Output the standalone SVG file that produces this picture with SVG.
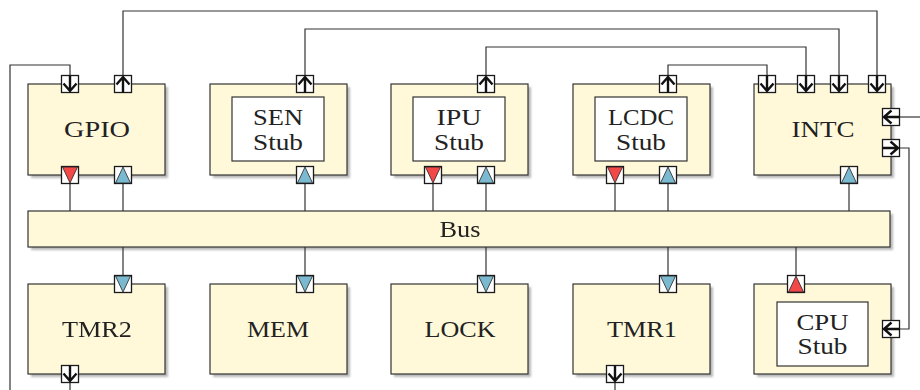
<svg xmlns="http://www.w3.org/2000/svg" width="920" height="390" viewBox="0 0 920 390">
<style>
.box{fill:#fff9d9;stroke:#333;stroke-width:1.2}
.sh{fill:#9a9a9a;opacity:.7}
.inner{fill:#fff;stroke:#333;stroke-width:1.2}
.con{fill:none;stroke:#333;stroke-width:1.2}
.psq{fill:#fff;stroke:#1a1a1a;stroke-width:1.3}
.arr{fill:none;stroke:#111;stroke-width:2.4}
.lbl{font-family:"Liberation Serif","Times New Roman",serif;font-size:22.5px;fill:#222;text-anchor:middle}
</style>
<defs>
<filter id="blur" x="-10%" y="-10%" width="120%" height="120%"><feGaussianBlur stdDeviation="0.8"/></filter>
<g id="pd"><rect class="psq" x="-8.5" y="-8.5" width="17" height="17"/><path class="arr" d="M0,-8.5V7.5M-6.5,-0.5L0,7L6.5,-0.5"/></g>
<g id="pu"><rect class="psq" x="-8.5" y="-8.5" width="17" height="17"/><path class="arr" d="M0,8.5V-7.5M-6.5,0.5L0,-7L6.5,0.5"/></g>
<g id="pl"><rect class="psq" x="-8.5" y="-8.5" width="17" height="17"/><path class="arr" d="M8.5,0H-7.5M0.5,-6.5L-7,0L0.5,6.5"/></g>
<g id="pr"><rect class="psq" x="-8.5" y="-8.5" width="17" height="17"/><path class="arr" d="M-8.5,0H7.5M-0.5,-6.5L7,0L-0.5,6.5"/></g>
<g id="rd"><rect class="psq" x="-8.5" y="-8.5" width="17" height="17"/><path d="M-7.5,-8L7.5,-8L0,8Z" fill="#f24848" stroke="#222" stroke-width="0.8"/></g>
<g id="ru"><rect class="psq" x="-8.5" y="-8.5" width="17" height="17"/><path d="M-7.5,8L7.5,8L0,-8Z" fill="#f24848" stroke="#222" stroke-width="0.8"/></g>
<g id="bd"><rect class="psq" x="-8.5" y="-8.5" width="17" height="17"/><path d="M-7.5,-8L7.5,-8L0,8Z" fill="#7ab9cf" stroke="#222" stroke-width="0.8"/></g>
<g id="bu"><rect class="psq" x="-8.5" y="-8.5" width="17" height="17"/><path d="M-7.5,8L7.5,8L0,-8Z" fill="#7ab9cf" stroke="#222" stroke-width="0.8"/></g>
</defs>
<rect width="920" height="390" fill="#fff"/>

<g id="shadows" filter="url(#blur)">
<rect class="sh" x="31" y="87" width="137" height="91"/>
<rect class="sh" x="213" y="87" width="137" height="91"/>
<rect class="sh" x="394" y="87" width="137" height="91"/>
<rect class="sh" x="576" y="87" width="137" height="91"/>
<rect class="sh" x="757" y="87" width="137" height="91"/>
<rect class="sh" x="31" y="214" width="862" height="36"/>
<rect class="sh" x="31" y="287" width="137" height="90"/>
<rect class="sh" x="213" y="287" width="137" height="90"/>
<rect class="sh" x="394" y="287" width="137" height="90"/>
<rect class="sh" x="576" y="287" width="137" height="90"/>
<rect class="sh" x="757" y="287" width="137" height="90"/>
</g>

<g id="connectors">
<path class="con" d="M10,390V65H70V75.5"/>
<path class="con" d="M123,75.5V11H877V75.5"/>
<path class="con" d="M305,75.5V29H839V75.5"/>
<path class="con" d="M486,75.5V47H806V75.5"/>
<path class="con" d="M668,75.5V65H767V75.5"/>
<path class="con" d="M920,117H900"/>
<path class="con" d="M900,148H909V329H900"/>
<path class="con" d="M70,183.5V211M123,183.5V211M305,183.5V211M433,183.5V211M486,183.5V211M615,183.5V211M668,183.5V211M849,183.5V211"/>
<path class="con" d="M123,247V275.5M305,247V275.5M486,247V275.5M668,247V275.5M796,247V275.5"/>
<path class="con" d="M70,382.5V390M615,382.5V390"/>
</g>

<g id="GPIO">
<rect class="box" x="28" y="84" width="137" height="91"/>
<text class="lbl" x="97" y="137" textLength="66" lengthAdjust="spacingAndGlyphs">GPIO</text>
<use href="#pd" x="70" y="84"/><use href="#pu" x="123" y="84"/>
<use href="#rd" x="70" y="175"/><use href="#bu" x="123" y="175"/>
</g>

<g id="SEN">
<rect class="box" x="210" y="84" width="137" height="91"/>
<rect class="inner" x="232" y="97" width="92" height="64"/>
<text class="lbl" x="278" y="124.5" textLength="50" lengthAdjust="spacingAndGlyphs">SEN</text>
<text class="lbl" x="278" y="149.5" textLength="50" lengthAdjust="spacingAndGlyphs">Stub</text>
<use href="#pu" x="305" y="84"/><use href="#bu" x="305" y="175"/>
</g>

<g id="IPU">
<rect class="box" x="391" y="84" width="137" height="91"/>
<rect class="inner" x="413" y="97" width="92" height="64"/>
<text class="lbl" x="459" y="124.5" textLength="45" lengthAdjust="spacingAndGlyphs">IPU</text>
<text class="lbl" x="459" y="149.5" textLength="50" lengthAdjust="spacingAndGlyphs">Stub</text>
<use href="#pu" x="486" y="84"/>
<use href="#rd" x="433" y="175"/><use href="#bu" x="486" y="175"/>
</g>

<g id="LCDC">
<rect class="box" x="573" y="84" width="137" height="91"/>
<rect class="inner" x="595" y="97" width="92" height="64"/>
<text class="lbl" x="641" y="124.5" textLength="66" lengthAdjust="spacingAndGlyphs">LCDC</text>
<text class="lbl" x="641" y="149.5" textLength="50" lengthAdjust="spacingAndGlyphs">Stub</text>
<use href="#pu" x="668" y="84"/>
<use href="#rd" x="615" y="175"/><use href="#bu" x="668" y="175"/>
</g>

<g id="INTC">
<rect class="box" x="754" y="84" width="137" height="91"/>
<text class="lbl" x="823" y="137" textLength="63" lengthAdjust="spacingAndGlyphs">INTC</text>
<use href="#pd" x="767" y="84"/><use href="#pd" x="806" y="84"/>
<use href="#pd" x="839" y="84"/><use href="#pd" x="877" y="84"/>
<use href="#pl" x="891" y="117"/><use href="#pr" x="891" y="148"/>
<use href="#bu" x="849" y="175"/>
</g>

<g id="Bus">
<rect class="box" x="28" y="211" width="862" height="36"/>
<text class="lbl" x="460" y="236.5" textLength="41" lengthAdjust="spacingAndGlyphs">Bus</text>
</g>

<g id="TMR2">
<rect class="box" x="28" y="284" width="137" height="90"/>
<text class="lbl" x="97" y="336.5" textLength="70" lengthAdjust="spacingAndGlyphs">TMR2</text>
<use href="#bd" x="123" y="284"/><use href="#pd" x="70" y="374"/>
</g>

<g id="MEM">
<rect class="box" x="210" y="284" width="137" height="90"/>
<text class="lbl" x="278" y="336.5" textLength="62" lengthAdjust="spacingAndGlyphs">MEM</text>
<use href="#bd" x="305" y="284"/>
</g>

<g id="LOCK">
<rect class="box" x="391" y="284" width="137" height="90"/>
<text class="lbl" x="460" y="336.5" textLength="71" lengthAdjust="spacingAndGlyphs">LOCK</text>
<use href="#bd" x="486" y="284"/>
</g>

<g id="TMR1">
<rect class="box" x="573" y="284" width="137" height="90"/>
<text class="lbl" x="642" y="336.5" textLength="70" lengthAdjust="spacingAndGlyphs">TMR1</text>
<use href="#bd" x="668" y="284"/><use href="#pd" x="615" y="374"/>
</g>

<g id="CPU">
<rect class="box" x="754" y="284" width="137" height="90"/>
<rect class="inner" x="777" y="302" width="91" height="64"/>
<text class="lbl" x="822.5" y="329.5" textLength="52" lengthAdjust="spacingAndGlyphs">CPU</text>
<text class="lbl" x="822.5" y="354" textLength="50" lengthAdjust="spacingAndGlyphs">Stub</text>
<use href="#ru" x="796" y="284"/><use href="#pl" x="891" y="329"/>
</g>
</svg>
